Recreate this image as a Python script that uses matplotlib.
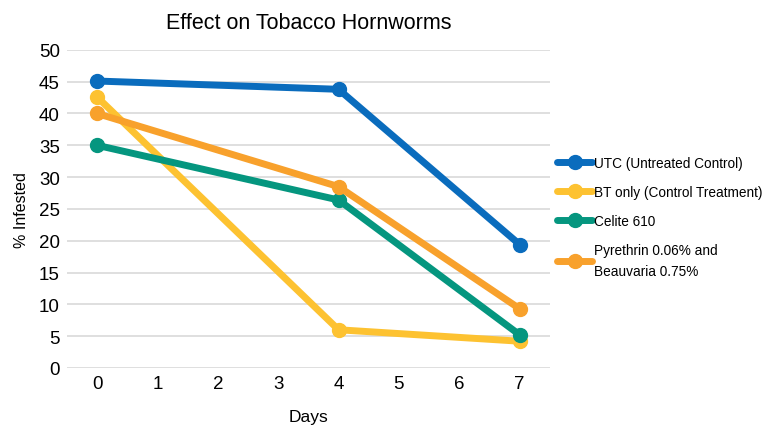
import matplotlib
matplotlib.use("Agg")
import matplotlib.pyplot as plt

days = [0, 4, 7]
utc = [45.1, 43.8, 19.4]
bt_only = [42.6, 6.0, 4.2]
celite = [35.0, 26.4, 5.2]
pyrethrin = [40.0, 28.5, 9.3]

series = [
    ("UTC (Untreated Control)", utc, "#0a6cbd"),
    ("BT only (Control Treatment)", bt_only, "#fdc231"),
    ("Celite 610", celite, "#05967f"),
    ("Pyrethrin 0.06% and\nBeauvaria 0.75%", pyrethrin, "#f8a12c"),
]

plt.rcParams["font.family"] = ["Liberation Sans", "DejaVu Sans"]

fig = plt.figure(figsize=(7.68, 4.31), dpi=100)
ax = fig.add_axes([0.087, 0.144, 0.629, 0.738])

for label, vals, color in series:
    ax.plot(days, vals, color=color, linewidth=5, marker="o", markersize=10,
            solid_capstyle="round", label=label)

ax.set_xlim(-0.5, 7.5)
ax.set_ylim(0, 50)
ax.set_xticks(range(0, 8))
ax.set_yticks(range(0, 55, 5))
ax.tick_params(axis="both", length=0, labelsize=13.5, pad=5)
ax.grid(axis="y", color="#d9d9d9", linewidth=1.2)
ax.set_axisbelow(True)
for s in ax.spines.values():
    s.set_visible(False)

ax.set_xlabel("Days", fontsize=12.5, labelpad=12)
ax.set_ylabel("% Infested", fontsize=11.5, labelpad=7)
ax.set_title("Effect on Tobacco Hornworms", fontsize=15.5, pad=16)

leg = ax.legend(loc="center left", bbox_to_anchor=(0.995, 0.475), frameon=False,
                fontsize=9.8, handlelength=2.6, borderaxespad=0.3, labelspacing=1.1,
                handletextpad=0.1)
for t in leg.get_texts():
    t.set_linespacing(1.6)

fig.savefig("out.png", dpi=100, facecolor="white")
